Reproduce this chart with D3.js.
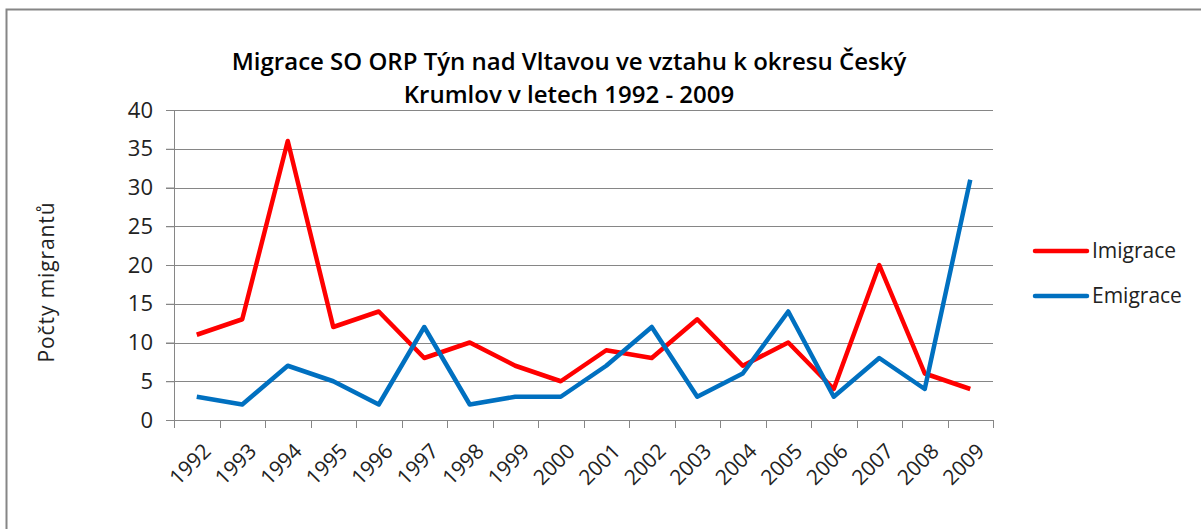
<!DOCTYPE html>
<html>
<head>
<meta charset="utf-8">
<script src="https://cdn.jsdelivr.net/npm/d3@7"></script>
<style>
  body { margin: 0; background: #fff; }
  text { font-family: "Open Sans", Lato, sans-serif; }
</style>
</head>
<body>
<div id="graph"></div>
<script>
// Data
var years = ["1992", "1993", "1994", "1995", "1996", "1997", "1998", "1999", "2000",
  "2001", "2002", "2003", "2004", "2005", "2006", "2007", "2008", "2009"];
var imigrace = [11, 13, 36, 12, 14, 8, 10, 7, 5, 9, 8, 13, 7, 10, 4, 20, 6, 4];
var emigrace = [3, 2, 7, 5, 2, 12, 2, 3, 3, 7, 12, 3, 6, 14, 3, 8, 4, 31];
var yTicks = [0, 5, 10, 15, 20, 25, 30, 35, 40];
var titleLines = ["Migrace SO ORP Týn nad Vltavou ve vztahu k okresu Český",
  "Krumlov v letech 1992 - 2009"];
var seriesNames = ["Imigrace", "Emigrace"];
var seriesColors = ["#ff0000", "#0070c0"];

const WIDTH = 1201;
const HEIGHT = 529;

var margin = { top: 110, right: 208, bottom: 109, left: 174 },
  width = WIDTH - margin.left - margin.right,
  height = HEIGHT - margin.top - margin.bottom;

var svg = d3.select("#graph")
  .append("svg")
  .attr("width", WIDTH)
  .attr("height", HEIGHT);

// chart border
svg.append("rect")
  .attr("x", 6.5).attr("y", 9.5)
  .attr("width", WIDTH + 20).attr("height", HEIGHT + 20)
  .attr("fill", "none")
  .attr("stroke", "#868686")
  .attr("stroke-width", 2);

var g = svg.append("g")
  .attr("transform", "translate(" + margin.left + "," + margin.top + ")");

var x = d3.scaleBand().domain(years).range([0, width]);
var y = d3.scaleLinear().domain([0, 40]).range([height, 0]);

// gridlines
g.append("g")
  .selectAll("line")
  .data(yTicks)
  .join("line")
  .attr("x1", -8).attr("x2", width)
  .attr("y1", d => Math.round(y(d)) + 0.5)
  .attr("y2", d => Math.round(y(d)) + 0.5)
  .attr("stroke", "#868686");

// y axis
var yAxis = g.append("g")
  .call(d3.axisLeft(y).tickValues(yTicks).tickSize(8).tickPadding(13));
yAxis.select(".domain").attr("stroke", "#868686");
yAxis.selectAll(".tick line").attr("stroke", "#868686");
yAxis.selectAll("text").attr("font-size", 22).attr("fill", "#222")
  .attr("font-family", "'Open Sans', sans-serif");

// x axis
var xAxis = g.append("g")
  .attr("transform", "translate(0," + height + ")")
  .call(d3.axisBottom(x).tickSize(0).tickFormat(""));
xAxis.select(".domain").attr("stroke", "#868686");
xAxis.selectAll(".tick").remove();

// x tick marks at band boundaries
g.append("g")
  .selectAll("line")
  .data(years.concat(["end"]))
  .join("line")
  .attr("x1", (d, i) => Math.round(i * x.bandwidth()) + 0.5)
  .attr("x2", (d, i) => Math.round(i * x.bandwidth()) + 0.5)
  .attr("y1", height).attr("y2", height + 8)
  .attr("stroke", "#868686");

// x labels
g.append("g")
  .selectAll("text")
  .data(years)
  .join("text")
  .attr("transform", d => "translate(" + (x(d) + x.bandwidth() / 2 + 5) + "," + (height + 22) + ") rotate(-45)")
  .attr("text-anchor", "end")
  .attr("dy", "0.7em")
  .attr("font-size", 21)
  .attr("fill", "#222")
  .text(d => d);

// lines
var line = d3.line()
  .x((d, i) => x(years[i]) + x.bandwidth() / 2)
  .y(d => y(d));

[imigrace, emigrace].forEach(function (data, k) {
  g.append("path")
    .attr("d", line(data))
    .attr("fill", "none")
    .attr("stroke", seriesColors[k])
    .attr("stroke-width", 4.5)
    .attr("stroke-linejoin", "round");
});

// title
svg.append("g")
  .selectAll("text")
  .data(titleLines)
  .join("text")
  .attr("x", 569)
  .attr("y", (d, i) => 70 + i * 33)
  .attr("text-anchor", "middle")
  .attr("font-size", 24)
  .attr("font-weight", 600)
  .attr("fill", "#000")
  .text(d => d);

// y axis title
svg.append("text")
  .attr("transform", "translate(54,282) rotate(-90)")
  .attr("text-anchor", "middle")
  .attr("font-size", 21)
  .attr("letter-spacing", 0.9)
  .attr("fill", "#222")
  .text("Počty migrantů");

// legend
var legend = svg.append("g")
  .selectAll("g")
  .data(seriesNames)
  .join("g")
  .attr("transform", (d, i) => "translate(1035," + (251 + i * 45) + ")");
legend.append("line")
  .attr("x1", 0).attr("x2", 52)
  .attr("stroke", (d, i) => seriesColors[i])
  .attr("stroke-width", 4.5)
  .attr("stroke-linecap", "round");
legend.append("text")
  .attr("x", 57).attr("dy", "0.35em")
  .attr("font-size", 21)
  .attr("fill", "#222")
  .text(d => d);
</script>
</body>
</html>
